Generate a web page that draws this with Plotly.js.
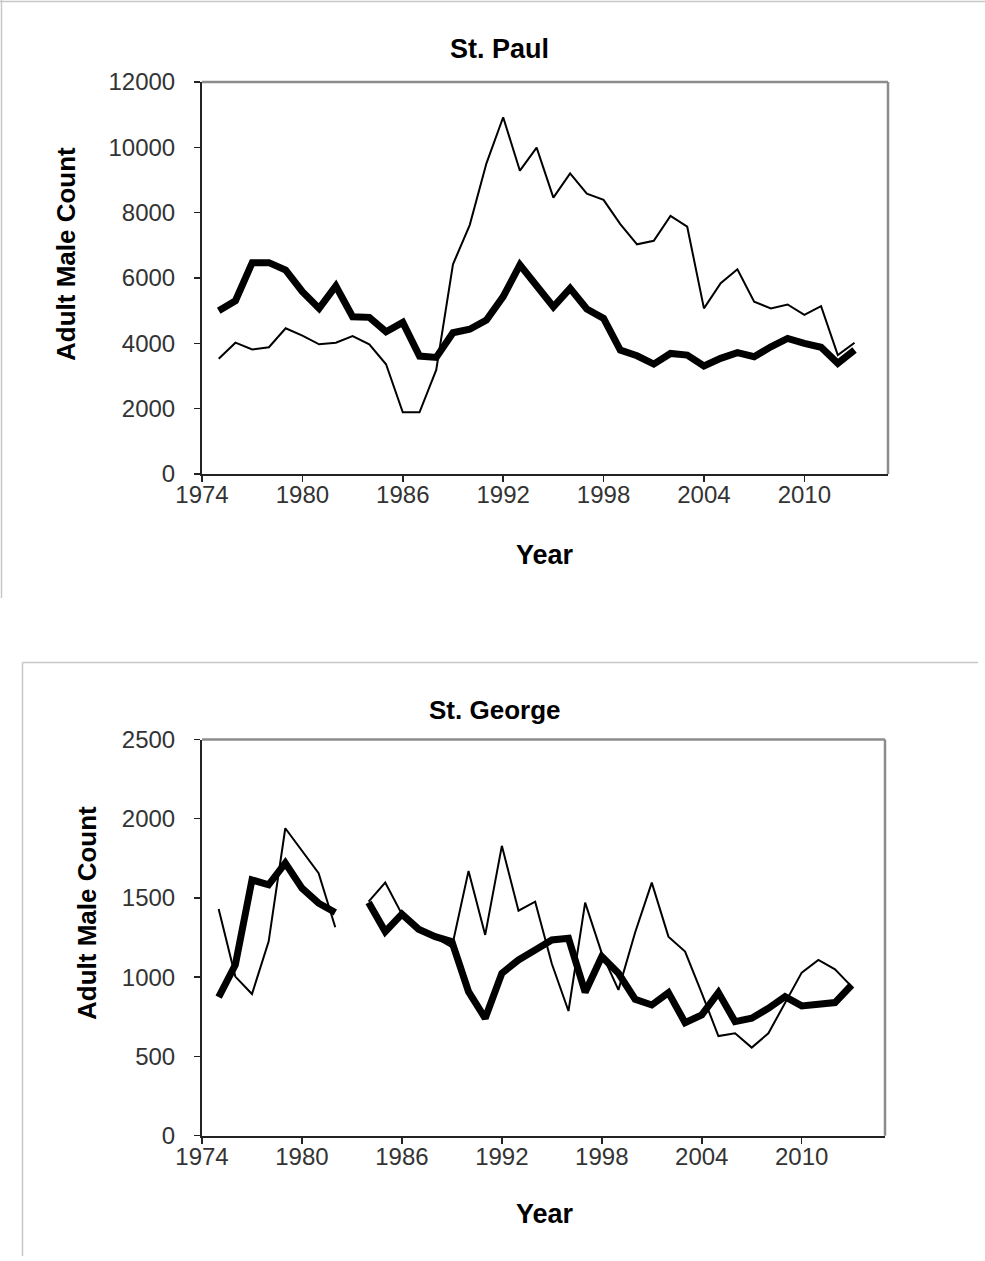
<!DOCTYPE html>
<html>
<head>
<meta charset="utf-8">
<script src="https://cdn.plot.ly/plotly-3.0.1.min.js"></script>
<style>html,body{margin:0;padding:0;background:#fff;}#chart{width:985px;height:1261px;}</style>
</head>
<body>
<div id="chart"></div>
<script>
var years = [1975,1976,1977,1978,1979,1980,1981,1982,1983,1984,1985,1986,1987,1988,1989,1990,1991,1992,1993,1994,1995,1996,1997,1998,1999,2000,2001,2002,2003,2004,2005,2006,2007,2008,2009,2010,2011,2012,2013];

var stPaulThin = [3530,4020,3815,3880,4460,4235,3970,4020,4225,3970,3360,1890,1890,3185,6420,7620,9510,10920,9285,9990,8460,9200,8580,8390,7650,7030,7140,7900,7570,5070,5840,6265,5275,5070,5190,4870,5140,3640,4020];
var stPaulThick = [5000,5305,6470,6470,6245,5580,5070,5755,4815,4795,4355,4640,3610,3570,4325,4430,4715,5430,6400,5735,5120,5685,5050,4765,3795,3620,3365,3690,3640,3305,3540,3715,3590,3895,4150,4000,3880,3390,3795];

var stGeorgeThin = [1431,1004,894,1225,1940,1797,1656,1315,null,1477,1597,1398,1300,1250,1190,1671,1267,1829,1420,1477,1085,787,1471,1151,920,1282,1597,1256,1162,899,629,646,556,646,836,1029,1109,1050,941];
var stGeorgeThick = [874,1078,1614,1583,1720,1562,1467,1408,null,1471,1288,1398,1303,1256,1225,909,741,1025,1109,1172,1235,1246,905,1130,1025,861,825,903,713,762,903,720,741,804,877,819,829,840,951];

var xTicks = [1974,1980,1986,1992,1998,2004,2010];
var titles = ["St. Paul", "St. George"];
var yTitle = "Adult Male Count";
var xTitle = "Year";

var W = 985, H = 1261;
function px(x){ return x / W; }
function py(y){ return 1 - y / H; }

var FONT = "Liberation Sans, Arial, sans-serif";

function line(x, y, w, axis){
  return {x: x, y: y, type: "scatter", mode: "lines", connectgaps: false,
    line: {color: "#000", width: w}, xaxis: axis[0], yaxis: axis[1], hoverinfo: "skip", showlegend: false};
}

var data = [
  line(years, stPaulThin, 2, ["x","y"]),
  line(years, stPaulThick, 7, ["x","y"]),
  line(years, stGeorgeThin, 2, ["x2","y2"]),
  line(years, stGeorgeThick, 7, ["x2","y2"])
];

function xax(dom, anchor){
  return {domain: dom, anchor: anchor, range: [1974, 2015], tickmode: "array", tickvals: xTicks,
    ticks: "outside", ticklen: 6, tickwidth: 1.5, tickcolor: "#222", showline: true, linecolor: "#222", linewidth: 2,
    showgrid: false, zeroline: false, tickfont: {family: FONT, size: 24, color: "#333"}, ticklabelstandoff: -8};
}
function yax(dom, anchor, maxv, dt){
  return {domain: dom, anchor: anchor, range: [0, maxv], dtick: dt, tick0: 0, tickformat: "d",
    ticks: "outside", ticklen: 6, tickwidth: 1.5, tickcolor: "#222", showline: true, linecolor: "#222", linewidth: 2,
    showgrid: false, zeroline: false, tickfont: {family: FONT, size: 24, color: "#333"}, ticklabelstandoff: 14};
}

var layout = {
  width: W, height: H, margin: {l: 0, r: 0, t: 0, b: 0}, paper_bgcolor: "#fff", plot_bgcolor: "#fff",
  showlegend: false,
  xaxis: xax([px(202), px(888)], "y"),
  yaxis: yax([py(474), py(82)], "x", 12000, 2000),
  xaxis2: xax([px(202), px(885)], "y2"),
  yaxis2: yax([py(1135.7), py(739.5)], "x2", 2500, 500),
  shapes: [
    {type: "line", xref: "paper", yref: "paper", x0: 0, x1: 1, y0: py(1.5), y1: py(1.5), line: {color: "#c8c8c8", width: 1.5}},
    {type: "line", xref: "paper", yref: "paper", x0: px(1.5), x1: px(1.5), y0: py(0), y1: py(598), line: {color: "#c8c8c8", width: 1.5}},
    {type: "line", xref: "paper", yref: "paper", x0: px(22.5), x1: px(978), y0: py(662.5), y1: py(662.5), line: {color: "#c8c8c8", width: 1.5}},
    {type: "line", xref: "paper", yref: "paper", x0: px(22.5), x1: px(22.5), y0: py(662.5), y1: py(1256), line: {color: "#c8c8c8", width: 1.5}},
    {type: "line", xref: "x domain", yref: "y domain", x0: 0, x1: 1, y0: 1, y1: 1, line: {color: "#8c8c8c", width: 2.5}},
    {type: "line", xref: "x domain", yref: "y domain", x0: 1, x1: 1, y0: 0, y1: 1, line: {color: "#8c8c8c", width: 2.5}},
    {type: "line", xref: "x2 domain", yref: "y2 domain", x0: 0, x1: 1, y0: 1, y1: 1, line: {color: "#8c8c8c", width: 2.5}},
    {type: "line", xref: "x2 domain", yref: "y2 domain", x0: 1, x1: 1, y0: 0, y1: 1, line: {color: "#8c8c8c", width: 2.5}}
  ],
  annotations: [
    {text: "<b>" + titles[0] + "</b>", xref: "paper", yref: "paper", x: px(500), y: py(49), xanchor: "center", yanchor: "middle", showarrow: false, font: {family: FONT, size: 27, color: "#000"}},
    {text: "<b>" + titles[1] + "</b>", xref: "paper", yref: "paper", x: px(494), y: py(710), xanchor: "center", yanchor: "middle", showarrow: false, font: {family: FONT, size: 26, color: "#000"}},
    {text: "<b>" + yTitle + "</b>", xref: "paper", yref: "paper", x: px(66), y: py(254), xanchor: "center", yanchor: "middle", textangle: -90, showarrow: false, font: {family: FONT, size: 26, color: "#000"}},
    {text: "<b>" + yTitle + "</b>", xref: "paper", yref: "paper", x: px(87), y: py(913), xanchor: "center", yanchor: "middle", textangle: -90, showarrow: false, font: {family: FONT, size: 26, color: "#000"}},
    {text: "<b>" + xTitle + "</b>", xref: "paper", yref: "paper", x: px(545), y: py(555), xanchor: "center", yanchor: "middle", showarrow: false, font: {family: FONT, size: 27, color: "#000"}},
    {text: "<b>" + xTitle + "</b>", xref: "paper", yref: "paper", x: px(545), y: py(1214), xanchor: "center", yanchor: "middle", showarrow: false, font: {family: FONT, size: 27, color: "#000"}}
  ]
};

Plotly.newPlot("chart", data, layout, {staticPlot: true, displayModeBar: false});
</script>
</body>
</html>
